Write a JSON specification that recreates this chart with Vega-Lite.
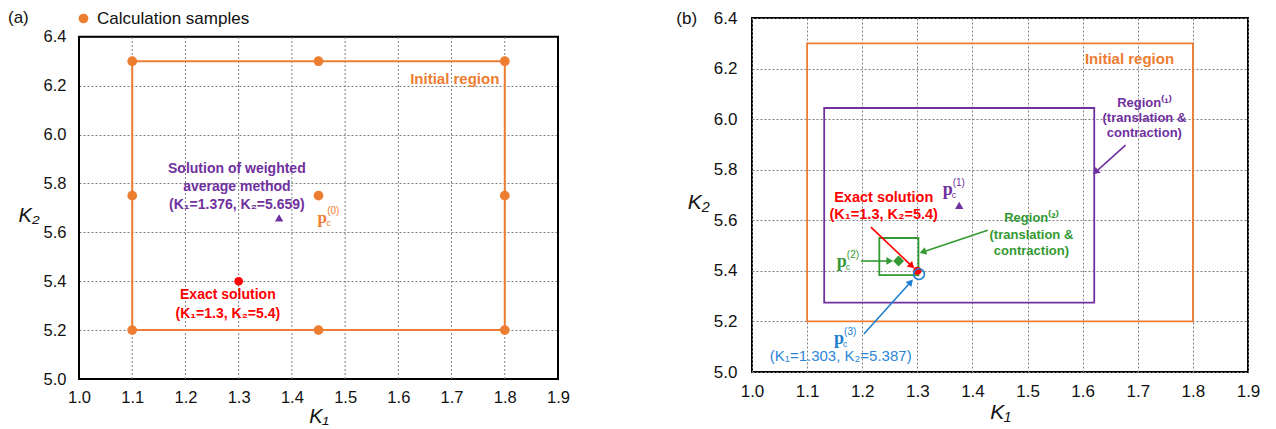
{
  "$schema": "https://vega.github.io/schema/vega-lite/v6.json",
  "padding": {"left": 8, "top": 8, "right": 5, "bottom": 5},
  "background": "white",
  "config": {
    "font": "Liberation Sans",
    "view": {"stroke": "#000", "strokeWidth": 2},
    "axis": {"grid": true, "gridDash": [2, 2], "gridColor": "#7f7f7f", "gridWidth": 1, "ticks": false, "domain": false, "labelColor": "#111", "titleColor": "#111", "titleFontStyle": "italic", "titleFontWeight": "normal", "labelFlush": false, "labelOverlap": false, "labelFont": "Liberation Sans", "titleFont": "Liberation Sans"}
  },
  "spacing": 105,
  "resolve": {"scale": {"color": "independent", "stroke": "independent", "fill": "independent"}},
  "hconcat": [
    {
      "width": 479,
      "height": 361,
      "view": {"stroke": null},
      "layer": [
        {
          "data": {"values": [{"K1": 1.0, "K1end": 1.9, "K2": 5.0, "K2end": 6.4}]},
          "mark": {"type": "rect", "fillOpacity": 0, "stroke": "#000", "strokeWidth": 2},
          "encoding": {
            "x": {"field": "K1", "type": "quantitative", "scale": {"domain": [1.0, 1.9], "nice": false, "zero": false},
              "axis": {"title": "K₁", "grid": false, "values": [1.0, 1.1, 1.2, 1.3, 1.4, 1.5, 1.6, 1.7, 1.8, 1.9], "format": ".1f", "labelFontSize": 16.5, "labelPadding": 10, "titleFontSize": 20, "titlePadding": 1}},
            "x2": {"field": "K1end"},
            "y": {"field": "K2", "type": "quantitative", "scale": {"domain": [5.0, 6.4769], "nice": false, "zero": false},
              "axis": {"title": "K₂", "values": [5.0, 5.2, 5.4, 5.6, 5.8, 6.0, 6.2, 6.4], "format": ".1f", "labelFontSize": 16.5, "labelPadding": 13, "titleFontSize": 20, "titleAngle": 0, "titlePadding": 4, "titleAlign": "right", "titleBaseline": "middle", "titleY": 197}},
            "y2": {"field": "K2end"}
          }
        },
        {
          "data": {"values": [{"K1": 1.1}, {"K1": 1.2}, {"K1": 1.3}, {"K1": 1.4}, {"K1": 1.5}, {"K1": 1.6}, {"K1": 1.7}, {"K1": 1.8}]},
          "mark": {"type": "rule", "strokeDash": [2, 2], "color": "#7f7f7f", "strokeWidth": 1},
          "encoding": {"x": {"field": "K1", "type": "quantitative"}, "y": {"datum": 5.0}, "y2": {"datum": 6.4}}
        },
        {
          "data": {"values": [{"K1": 1.1, "K1end": 1.8, "K2": 5.2, "K2end": 6.3}]},
          "mark": {"type": "rect", "fillOpacity": 0, "stroke": "#ED7D31", "strokeWidth": 2},
          "encoding": {
            "x": {"field": "K1", "type": "quantitative"},
            "x2": {"field": "K1end"},
            "y": {"field": "K2", "type": "quantitative"},
            "y2": {"field": "K2end"}
          }
        },
        {
          "data": {"values": [
            {"K1": 1.1, "K2": 5.2, "kind": "Calculation samples"},
            {"K1": 1.1, "K2": 5.75, "kind": "Calculation samples"},
            {"K1": 1.1, "K2": 6.3, "kind": "Calculation samples"},
            {"K1": 1.45, "K2": 5.2, "kind": "Calculation samples"},
            {"K1": 1.45, "K2": 5.75, "kind": "Calculation samples"},
            {"K1": 1.45, "K2": 6.3, "kind": "Calculation samples"},
            {"K1": 1.8, "K2": 5.2, "kind": "Calculation samples"},
            {"K1": 1.8, "K2": 5.75, "kind": "Calculation samples"},
            {"K1": 1.8, "K2": 6.3, "kind": "Calculation samples"}
          ]},
          "mark": {"type": "point", "shape": "circle", "filled": true, "size": 95, "opacity": 1, "strokeWidth": 0},
          "encoding": {
            "x": {"field": "K1", "type": "quantitative"},
            "y": {"field": "K2", "type": "quantitative"},
            "fill": {"field": "kind", "type": "nominal", "scale": {"domain": ["Calculation samples"], "range": ["#ED7D31"]},
              "legend": {"orient": "none", "legendX": -71, "legendY": -8, "title": "(a)", "titleOrient": "left", "titlePadding": 46, "titleFontSize": 17, "titleFontWeight": "normal", "titleColor": "#111", "titleFont": "Liberation Sans", "labelFontSize": 17, "labelColor": "#111", "labelFont": "Liberation Sans", "labelOffset": 5, "symbolSize": 95, "symbolType": "circle", "symbolStrokeWidth": 0}}
          }
        },
        {
          "data": {"values": [{"K1": 1.376, "K2": 5.659}]},
          "mark": {"type": "point", "shape": "triangle-up", "filled": true, "size": 70, "opacity": 1, "color": "#7030A0"},
          "encoding": {"x": {"field": "K1", "type": "quantitative"}, "y": {"field": "K2", "type": "quantitative"}}
        },
        {
          "data": {"values": [{"K1": 1.3, "K2": 5.4}]},
          "mark": {"type": "point", "shape": "circle", "filled": true, "size": 75, "opacity": 1, "color": "#FF0000"},
          "encoding": {"x": {"field": "K1", "type": "quantitative"}, "y": {"field": "K2", "type": "quantitative"}}
        },
        {
          "data": {"values": [{"K1": 1.706, "K2": 6.229, "label": "Initial region"}]},
          "mark": {"type": "text", "fontSize": 15, "fontWeight": "bold", "color": "#ED7D31", "align": "center", "baseline": "middle"},
          "encoding": {"x": {"field": "K1", "type": "quantitative"}, "y": {"field": "K2", "type": "quantitative"}, "text": {"field": "label"}}
        },
        {
          "data": {"values": [
            {"K1": 1.2966, "K2": 5.86, "label": "Solution of weighted"},
            {"K1": 1.2966, "K2": 5.786, "label": "average method"},
            {"K1": 1.2966, "K2": 5.712, "label": "(K₁=1.376, K₂=5.659)"}
          ]},
          "mark": {"type": "text", "fontSize": 14, "fontWeight": "bold", "color": "#7030A0", "align": "center", "baseline": "middle"},
          "encoding": {"x": {"field": "K1", "type": "quantitative"}, "y": {"field": "K2", "type": "quantitative"}, "text": {"field": "label"}}
        },
        {
          "data": {"values": [
            {"K1": 1.2797, "K2": 5.344, "label": "Exact solution"},
            {"K1": 1.2797, "K2": 5.267, "label": "(K₁=1.3, K₂=5.4)"}
          ]},
          "mark": {"type": "text", "fontSize": 14, "fontWeight": "bold", "color": "#FF0000", "align": "center", "baseline": "middle"},
          "encoding": {"x": {"field": "K1", "type": "quantitative"}, "y": {"field": "K2", "type": "quantitative"}, "text": {"field": "label"}}
        },
        {
          "data": {"values": [{"K1": 1.457, "K2": 5.659, "sup": "(0)"}]},
          "layer": [
            {"mark": {"type": "text", "text": "p", "font": "Liberation Serif", "fontSize": 17, "fontWeight": "bold", "color": "#ED7D31", "align": "center", "baseline": "middle"}},
            {"mark": {"type": "text", "text": "c", "fontSize": 9, "color": "#ED7D31", "align": "left", "baseline": "middle", "dx": 4, "dy": 5}},
            {"mark": {"type": "text", "fontSize": 10, "color": "#ED7D31", "align": "left", "baseline": "middle", "dx": 5, "dy": -7}, "encoding": {"text": {"field": "sup"}}}
          ],
          "encoding": {"x": {"field": "K1", "type": "quantitative"}, "y": {"field": "K2", "type": "quantitative"}}
        }
      ]
    },
    {
      "width": 496,
      "height": 354,
      "title": {"text": "(b)", "anchor": "start", "frame": "bounds", "orient": "top", "fontSize": 17, "fontWeight": "normal", "color": "#111", "font": "Liberation Sans", "dx": -11, "offset": -19},
      "layer": [
        {
          "data": {"values": [
            {"K1": 1.1, "K1end": 1.8, "K2": 5.2, "K2end": 6.3, "grp": "initial"},
            {"K1": 1.131, "K1end": 1.621, "K2": 5.274, "K2end": 6.044, "grp": "region1"},
            {"K1": 1.231, "K1end": 1.302, "K2": 5.383, "K2end": 5.53, "grp": "region2"}
          ]},
          "mark": {"type": "rect", "fillOpacity": 0, "strokeWidth": 1.8},
          "encoding": {
            "x": {"field": "K1", "type": "quantitative", "scale": {"domain": [1.0, 1.9], "nice": false, "zero": false},
              "axis": {"title": "K₁", "values": [1.0, 1.1, 1.2, 1.3, 1.4, 1.5, 1.6, 1.7, 1.8, 1.9], "format": ".1f", "labelFontSize": 17, "labelPadding": 11, "titleFontSize": 21, "titlePadding": 2}},
            "x2": {"field": "K1end"},
            "y": {"field": "K2", "type": "quantitative", "scale": {"domain": [5.0, 6.4], "nice": false, "zero": false},
              "axis": {"title": "K₂", "values": [5.0, 5.2, 5.4, 5.6, 5.8, 6.0, 6.2, 6.4], "format": ".1f", "labelFontSize": 17, "labelPadding": 15, "titleFontSize": 21, "titleAngle": 0, "titlePadding": 4, "titleAlign": "right", "titleBaseline": "middle", "titleY": 184}},
            "y2": {"field": "K2end"},
            "stroke": {"field": "grp", "type": "nominal", "scale": {"domain": ["initial", "region1", "region2", "region3", "exact"], "range": ["#ED7D31", "#7030A0", "#339933", "#1F7FD0", "#FF0000"]}, "legend": null}
          }
        },
        {
          "data": {"values": [
            {"K1": 1.2157, "K2": 5.573, "K1end": 1.29, "K2end": 5.419, "ang": 43.6, "grp": "exact"},
            {"K1": 1.1975, "K2": 5.439, "K1end": 1.25, "K2end": 5.439, "ang": 0, "grp": "region2"},
            {"K1": 1.4277, "K2": 5.561, "K1end": 1.3099, "K2end": 5.4745, "ang": 161.3, "grp": "region2"},
            {"K1": 1.6778, "K2": 5.8976, "K1end": 1.6234, "K2end": 5.7908, "ang": 138, "grp": "region1"},
            {"K1": 1.203, "K2": 5.15, "K1end": 1.288, "K2end": 5.356, "ang": 312, "grp": "region3"}
          ]},
          "layer": [
            {"mark": {"type": "rule", "strokeWidth": 1.6},
              "encoding": {"x": {"field": "K1", "type": "quantitative"}, "y": {"field": "K2", "type": "quantitative"}, "x2": {"field": "K1end"}, "y2": {"field": "K2end"},
                "color": {"field": "grp", "type": "nominal", "scale": {"domain": ["initial", "region1", "region2", "region3", "exact"], "range": ["#ED7D31", "#7030A0", "#339933", "#1F7FD0", "#FF0000"]}, "legend": null}}},
            {"mark": {"type": "point", "shape": "triangle-right", "filled": true, "size": 60, "opacity": 1},
              "encoding": {"x": {"field": "K1end", "type": "quantitative"}, "y": {"field": "K2end", "type": "quantitative"}, "angle": {"field": "ang", "type": "quantitative", "scale": null},
                "color": {"field": "grp", "type": "nominal", "scale": {"domain": ["initial", "region1", "region2", "region3", "exact"], "range": ["#ED7D31", "#7030A0", "#339933", "#1F7FD0", "#FF0000"]}, "legend": null}}}
          ]
        },
        {
          "data": {"values": [{"K1": 1.376, "K2": 5.659}]},
          "mark": {"type": "point", "shape": "triangle-up", "filled": true, "size": 70, "opacity": 1, "color": "#7030A0"},
          "encoding": {"x": {"field": "K1", "type": "quantitative"}, "y": {"field": "K2", "type": "quantitative"}}
        },
        {
          "data": {"values": [{"K1": 1.266, "K2": 5.439}]},
          "mark": {"type": "point", "shape": "diamond", "filled": true, "size": 120, "opacity": 1, "color": "#339933"},
          "encoding": {"x": {"field": "K1", "type": "quantitative"}, "y": {"field": "K2", "type": "quantitative"}}
        },
        {
          "data": {"values": [{"K1": 1.3, "K2": 5.4}]},
          "mark": {"type": "point", "shape": "circle", "filled": true, "size": 64, "opacity": 1, "color": "#FF0000"},
          "encoding": {"x": {"field": "K1", "type": "quantitative"}, "y": {"field": "K2", "type": "quantitative"}}
        },
        {
          "data": {"values": [{"K1": 1.303, "K2": 5.387}]},
          "mark": {"type": "point", "shape": "circle", "filled": false, "size": 115, "opacity": 1, "strokeWidth": 1.6, "color": "#1F7FD0"},
          "encoding": {"x": {"field": "K1", "type": "quantitative"}, "y": {"field": "K2", "type": "quantitative"}}
        },
        {
          "data": {"values": [{"K1": 1.685, "K2": 6.238, "label": "Initial region"}]},
          "mark": {"type": "text", "fontSize": 15, "fontWeight": "bold", "color": "#ED7D31", "align": "center", "baseline": "middle"},
          "encoding": {"x": {"field": "K1", "type": "quantitative"}, "y": {"field": "K2", "type": "quantitative"}, "text": {"field": "label"}}
        },
        {
          "data": {"values": [
            {"K1": 1.712, "K2": 6.064, "label": "Region⁽¹⁾"},
            {"K1": 1.712, "K2": 6.004, "label": "(translation &"},
            {"K1": 1.712, "K2": 5.945, "label": "contraction)"}
          ]},
          "mark": {"type": "text", "fontSize": 13, "fontWeight": "bold", "color": "#7030A0", "align": "center", "baseline": "middle"},
          "encoding": {"x": {"field": "K1", "type": "quantitative"}, "y": {"field": "K2", "type": "quantitative"}, "text": {"field": "label"}}
        },
        {
          "data": {"values": [
            {"K1": 1.507, "K2": 5.609, "label": "Region⁽²⁾"},
            {"K1": 1.507, "K2": 5.542, "label": "(translation &"},
            {"K1": 1.507, "K2": 5.478, "label": "contraction)"}
          ]},
          "mark": {"type": "text", "fontSize": 13, "fontWeight": "bold", "color": "#339933", "align": "center", "baseline": "middle"},
          "encoding": {"x": {"field": "K1", "type": "quantitative"}, "y": {"field": "K2", "type": "quantitative"}, "text": {"field": "label"}}
        },
        {
          "data": {"values": [
            {"K1": 1.239, "K2": 5.688, "label": "Exact solution"},
            {"K1": 1.239, "K2": 5.621, "label": "(K₁=1.3, K₂=5.4)"}
          ]},
          "mark": {"type": "text", "fontSize": 14.5, "fontWeight": "bold", "color": "#FF0000", "align": "center", "baseline": "middle"},
          "encoding": {"x": {"field": "K1", "type": "quantitative"}, "y": {"field": "K2", "type": "quantitative"}, "text": {"field": "label"}}
        },
        {
          "data": {"values": [{"K1": 1.161, "K2": 5.063, "label": "(K₁=1.303, K₂=5.387)"}]},
          "mark": {"type": "text", "fontSize": 15, "color": "#2E86D6", "align": "center", "baseline": "middle"},
          "encoding": {"x": {"field": "K1", "type": "quantitative"}, "y": {"field": "K2", "type": "quantitative"}, "text": {"field": "label"}}
        },
        {
          "data": {"values": [
            {"K1": 1.355, "K2": 5.72, "sup": "(1)", "grp": "region1"},
            {"K1": 1.163, "K2": 5.437, "sup": "(2)", "grp": "region2"},
            {"K1": 1.158, "K2": 5.13, "sup": "(3)", "grp": "region3"}
          ]},
          "encoding": {"x": {"field": "K1", "type": "quantitative"}, "y": {"field": "K2", "type": "quantitative"},
            "color": {"field": "grp", "type": "nominal", "scale": {"domain": ["initial", "region1", "region2", "region3", "exact"], "range": ["#ED7D31", "#7030A0", "#339933", "#2E86D6", "#FF0000"]}, "legend": null}},
          "layer": [
            {"mark": {"type": "text", "text": "p", "font": "Liberation Serif", "fontSize": 18, "fontWeight": "bold", "align": "center", "baseline": "middle"}},
            {"mark": {"type": "text", "text": "c", "fontSize": 9, "align": "left", "baseline": "middle", "dx": 4, "dy": 5}},
            {"mark": {"type": "text", "fontSize": 10, "align": "left", "baseline": "middle", "dx": 5, "dy": -7}, "encoding": {"text": {"field": "sup"}}}
          ]
        }
      ]
    }
  ]
}
